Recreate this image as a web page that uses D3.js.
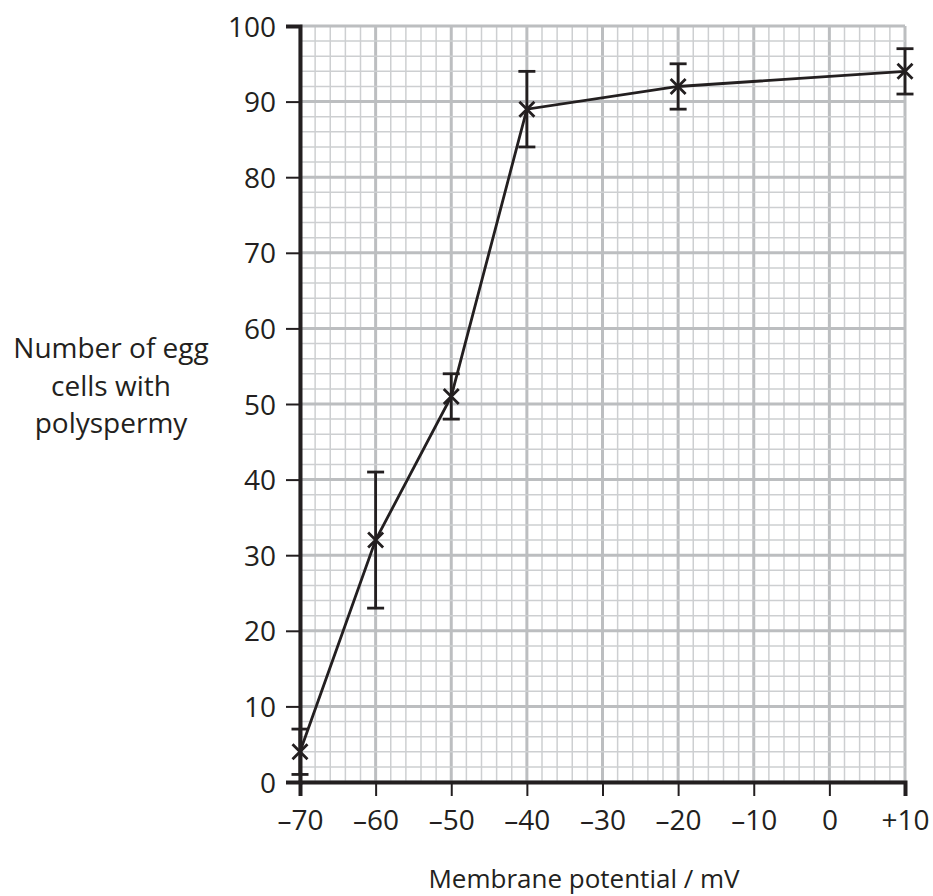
<!DOCTYPE html>
<html>
<head>
<meta charset="utf-8">
<script src="https://cdn.jsdelivr.net/npm/d3@7"></script>
<style>
  body { margin: 0; background: #fff; }
  text { font-family: "Open Sans", "Noto Sans", sans-serif; fill: #231f20; }
</style>
</head>
<body>
<div id="chart"></div>
<script>
// Data
var potentials = [-70, -60, -50, -40, -20, 10];
var eggCells = [4, 32, 51, 89, 92, 94];
var errLow = [1, 23, 48, 84, 89, 91];
var errHigh = [7, 41, 54, 94, 95, 97];

var xTickValues = [-70, -60, -50, -40, -30, -20, -10, 0, 10];
var xTickLabels = ["\u201370", "\u201360", "\u201350", "\u201340", "\u201330", "\u201320", "\u201310", "0", "+10"];
var yTickValues = [0, 10, 20, 30, 40, 50, 60, 70, 80, 90, 100];
var yTickLabels = ["0", "10", "20", "30", "40", "50", "60", "70", "80", "90", "100"];

// Dimensions
var margin = {top: 26, right: 28, bottom: 114, left: 300},
    width = 933 - margin.left - margin.right,
    height = 896 - margin.top - margin.bottom;

var svg = d3.select("#chart")
  .append("svg")
  .attr("width", 933)
  .attr("height", 896)
  .append("g")
  .attr("transform", "translate(" + margin.left + "," + margin.top + ")");

var x = d3.scaleLinear().domain([-70, 10]).range([0, 605]);
var y = d3.scaleLinear().domain([0, 100]).range([756, 0]);

// Graph paper grid: minor every 2 units, major every 10
var minorX = d3.range(-70, 11, 2), minorY = d3.range(0, 101, 2);

svg.append("g").selectAll("line")
  .data(minorX)
  .enter().append("line")
  .attr("x1", function(d) { return x(d); })
  .attr("x2", function(d) { return x(d); })
  .attr("y1", y(0)).attr("y2", y(100))
  .attr("stroke", function(d) { return d % 10 === 0 ? "#bcbec0" : "#cdcfd1"; })
  .attr("stroke-width", function(d) { return d % 10 === 0 ? 3 : 1.5; });

svg.append("g").selectAll("line")
  .data(minorY)
  .enter().append("line")
  .attr("y1", function(d) { return y(d); })
  .attr("y2", function(d) { return y(d); })
  .attr("x1", x(-70)).attr("x2", x(10))
  .attr("stroke", function(d) { return d % 10 === 0 ? "#bcbec0" : "#cdcfd1"; })
  .attr("stroke-width", function(d) { return d % 10 === 0 ? 3 : 1.5; });

// Axes
var xAxis = svg.append("g")
  .attr("transform", "translate(0," + y(0) + ")")
  .call(d3.axisBottom(x)
    .tickValues(xTickValues)
    .tickSize(14)
    .tickFormat(function(d, i) { return xTickLabels[i]; }));

var yAxis = svg.append("g")
  .call(d3.axisLeft(y)
    .tickValues(yTickValues)
    .tickSize(14)
    .tickPadding(10)
    .tickFormat(function(d, i) { return yTickLabels[i]; }));

[xAxis, yAxis].forEach(function(a) {
  a.select(".domain").attr("stroke", "#231f20").attr("stroke-width", 4);
  a.selectAll(".tick line").attr("stroke", "#231f20").attr("stroke-width", 2);
  a.selectAll(".tick text")
    .style("font-family", "'Open Sans', 'Noto Sans', sans-serif")
    .style("font-size", "28px")
    .attr("fill", "#231f20");
});
xAxis.selectAll(".tick text").attr("y", 48).attr("dy", 0);
yAxis.selectAll(".tick text").attr("dy", "0.36em");

// Data line
var points = potentials.map(function(p, i) {
  return {x: p, y: eggCells[i], lo: errLow[i], hi: errHigh[i]};
});

svg.append("path")
  .datum(points)
  .attr("fill", "none")
  .attr("stroke", "#231f20")
  .attr("stroke-width", 2.8)
  .attr("d", d3.line()
    .x(function(d) { return x(d.x); })
    .y(function(d) { return y(d.y); }));

// Error bars
var bars = svg.append("g").selectAll("g")
  .data(points)
  .enter().append("g")
  .attr("stroke", "#231f20")
  .attr("stroke-width", 2.8);

bars.append("line")
  .attr("x1", function(d) { return x(d.x); })
  .attr("x2", function(d) { return x(d.x); })
  .attr("y1", function(d) { return y(d.lo); })
  .attr("y2", function(d) { return y(d.hi); });

bars.append("line")
  .attr("x1", function(d) { return x(d.x) - 8.5; })
  .attr("x2", function(d) { return x(d.x) + 8.5; })
  .attr("y1", function(d) { return y(d.lo); })
  .attr("y2", function(d) { return y(d.lo); });

bars.append("line")
  .attr("x1", function(d) { return x(d.x) - 8.5; })
  .attr("x2", function(d) { return x(d.x) + 8.5; })
  .attr("y1", function(d) { return y(d.hi); })
  .attr("y2", function(d) { return y(d.hi); });

// Cross markers
var s = 7.5;
bars.append("path")
  .attr("fill", "none")
  .attr("d", function(d) {
    var cx = x(d.x), cy = y(d.y);
    return "M" + (cx - s) + "," + (cy - s) + "L" + (cx + s) + "," + (cy + s) +
           "M" + (cx - s) + "," + (cy + s) + "L" + (cx + s) + "," + (cy - s);
  });

// Axis titles
svg.append("text")
  .attr("x", 584 - margin.left)
  .attr("y", 888 - margin.top)
  .attr("text-anchor", "middle")
  .style("font-size", "26px")
  .text("Membrane potential / mV");

var yTitle = svg.append("text")
  .attr("text-anchor", "middle")
  .style("font-size", "28px");

["Number of egg", "cells with", "polyspermy"].forEach(function(t, i) {
  yTitle.append("tspan")
    .attr("x", 111 - margin.left)
    .attr("y", 358 - margin.top + i * 37.5)
    .text(t);
});
</script>
</body>
</html>
